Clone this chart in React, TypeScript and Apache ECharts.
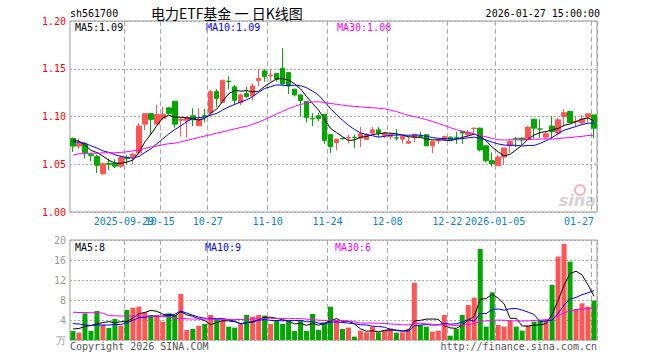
import React, { useEffect, useRef } from "react";
import * as echarts from "echarts";

const dates = [
  "2025-09-16","2025-09-17","2025-09-18","2025-09-19","2025-09-22","2025-09-23","2025-09-24","2025-09-25","2025-09-26","2025-09-29",
  "2025-09-30","2025-10-09","2025-10-10","2025-10-13","2025-10-14","2025-10-15","2025-10-16","2025-10-17","2025-10-20","2025-10-21",
  "2025-10-22","2025-10-23","2025-10-24","2025-10-27","2025-10-28","2025-10-29","2025-10-30","2025-10-31","2025-11-03","2025-11-04",
  "2025-11-05","2025-11-06","2025-11-07","2025-11-10","2025-11-11","2025-11-12","2025-11-13","2025-11-14","2025-11-17","2025-11-18",
  "2025-11-19","2025-11-20","2025-11-21","2025-11-24","2025-11-25","2025-11-26","2025-11-27","2025-11-28","2025-12-01","2025-12-02",
  "2025-12-03","2025-12-04","2025-12-05","2025-12-08","2025-12-09","2025-12-10","2025-12-11","2025-12-12","2025-12-15","2025-12-16",
  "2025-12-17","2025-12-18","2025-12-19","2025-12-22","2025-12-23","2025-12-24","2025-12-25","2025-12-26","2025-12-29","2025-12-30",
  "2025-12-31","2026-01-05","2026-01-06","2026-01-07","2026-01-08","2026-01-09","2026-01-12","2026-01-13","2026-01-14","2026-01-15",
  "2026-01-16","2026-01-19","2026-01-20","2026-01-21","2026-01-22","2026-01-23","2026-01-26","2026-01-27"
];

const xLabelIndex = [9, 15, 23, 33, 43, 53, 63, 71, 87];
const fullLabelIndex = [9, 71];

const opens = [
  1.077,1.069,1.071,1.060,1.058,1.040,1.051,1.051,1.048,1.057,
  1.058,1.062,1.092,1.103,1.092,1.098,1.109,1.116,1.096,1.096,
  1.1007,1.0903,1.101,1.104,1.126,1.1146,1.137,1.131,1.1146,1.124,
  1.1216,1.1376,1.1477,1.1425,1.145,1.1505,1.146,1.1286,1.1226,1.1157,
  1.098,1.1007,1.1024,1.081,1.0728,1.0772,1.0775,1.0782,1.0774,1.076,
  1.0826,1.086,1.080,1.079,1.0778,1.0763,1.072,1.078,1.0795,1.081,
  1.0693,1.0745,1.0763,1.0784,1.0778,1.0843,1.081,1.0875,1.0878,1.0693,
  1.0537,1.0484,1.0575,1.0693,1.0768,1.0774,1.0757,1.0972,1.087,1.0784,
  1.090,1.0826,1.100,1.1052,1.0945,1.0935,1.0993,1.1017
];
const closes = [
  1.069,1.072,1.062,1.059,1.049,1.0505,1.050,1.048,1.057,1.056,
  1.0605,1.090,1.103,1.097,1.102,1.102,1.103,1.092,1.097,1.099,
  1.0965,1.0972,1.100,1.126,1.119,1.138,1.1365,1.117,1.1226,1.121,
  1.132,1.140,1.1418,1.1435,1.139,1.134,1.132,1.1226,1.1167,1.099,
  1.0975,1.098,1.075,1.0686,1.0763,1.0767,1.078,1.0778,1.082,1.081,
  1.086,1.0826,1.0826,1.081,1.0774,1.079,1.074,1.081,1.079,1.0693,
  1.074,1.075,1.079,1.0763,1.0774,1.0826,1.0833,1.0878,1.065,1.0537,
  1.0505,1.0575,1.067,1.0738,1.0767,1.0757,1.0889,1.0878,1.0868,1.082,
  1.0843,1.0965,1.104,1.0937,1.095,1.0972,1.1028,1.0878
];
const lows = [
  1.063,1.066,1.056,1.053,1.041,1.039,1.044,1.046,1.046,1.050,
  1.050,1.060,1.086,1.081,1.092,1.096,1.102,1.088,1.079,1.078,
  1.090,1.090,1.094,1.100,1.110,1.1146,1.1285,1.112,1.112,1.119,
  1.117,1.132,1.1365,1.1365,1.1365,1.133,1.1237,1.121,1.100,1.0937,
  1.090,1.095,1.0714,1.0617,1.0645,1.0757,1.072,1.067,1.068,1.075,
  1.081,1.0784,1.0774,1.076,1.075,1.0714,1.0714,1.073,1.0785,1.0693,
  1.0617,1.0714,1.0745,1.0763,1.0714,1.0714,1.079,1.081,1.0634,1.052,
  1.0477,1.0484,1.0495,1.0617,1.068,1.0704,1.0757,1.0774,1.0774,1.0763,
  1.0763,1.080,1.0895,1.093,1.090,1.092,1.0937,1.0774
];
const highs = [
  1.078,1.077,1.073,1.062,1.060,1.052,1.056,1.055,1.059,1.060,
  1.062,1.093,1.103,1.103,1.112,1.110,1.110,1.116,1.099,1.100,
  1.1087,1.1087,1.108,1.128,1.1285,1.138,1.142,1.133,1.124,1.131,
  1.134,1.150,1.150,1.150,1.1455,1.1714,1.146,1.1286,1.1226,1.1157,
  1.1035,1.104,1.1024,1.081,1.0763,1.0778,1.081,1.081,1.089,1.0826,
  1.089,1.089,1.084,1.0826,1.0868,1.079,1.079,1.082,1.084,1.081,
  1.074,1.077,1.080,1.079,1.084,1.0843,1.086,1.0878,1.0885,1.0693,
  1.0624,1.060,1.067,1.0762,1.0785,1.0774,1.090,1.0972,1.097,1.0833,
  1.100,1.0983,1.1077,1.106,1.100,1.1017,1.1028,1.1017
];

// volume in 万
const volumes = [
  1.8,1.47,5.33,1.8,5.8,3.0,2.4,4.2,2.87,6.0,
  6.47,6.67,5.53,5.0,5.0,3.67,5.33,5.0,9.2,2.0,
  2.2,2.87,3.2,5.0,4.2,4.0,2.67,2.47,3.13,5.0,
  4.67,5.0,4.87,3.2,4.0,3.2,3.8,1.8,4.0,1.8,
  5.2,2.0,3.53,6.67,4.0,2.2,2.47,0.67,1.87,1.53,
  2.67,1.53,2.0,2.33,1.47,1.53,2.2,11.47,3.0,2.67,
  1.67,1.87,5.0,0.87,2.2,5.0,7.0,8.47,18.2,2.67,
  9.53,3.0,2.67,3.8,2.67,1.87,2.87,3.67,4.0,4.0,
  11.0,16.67,19.2,15.67,6.2,7.33,6.67,7.87
];

// averages before the full window is available
const ma5Lead = [1.0756, 1.074, 1.0704, 1.0645];
const ma10Lead = [1.0732, 1.0732, 1.072, 1.0693, 1.067, 1.064, 1.0624, 1.060, 1.0582];
const ma30Lead = [
  1.0595,1.061,1.061,1.0615,1.0615,1.062,1.062,1.062,1.0625,1.063,
  1.064,1.065,1.0665,1.068,1.069,1.0705,1.0715,1.072,1.0735,1.075,
  1.0765,1.078,1.0795,1.081,1.0825,1.084,1.0855,1.087,1.0885
];
const volMa5Lead = [2.2, 2.3, 2.7, 2.9];
const volMa10Lead = [3.3, 3.2, 3.0, 2.9, 3.0, 3.0, 3.0, 3.1, 3.1];
const volMa30Lead = [
  5.55,5.5,5.5,5.45,5.45,5.4,4.85,4.85,4.8,4.8,
  4.8,4.8,4.75,4.75,4.75,4.7,4.7,4.3,4.3,4.25,
  4.2,4.2,4.2,4.15,4.15,4.1,4.1,4.1,4.1
];

const priceTicks = { min: 1.0, max: 1.2, interval: 0.05 };
const volTicks = { min: 0, max: 20, interval: 4 };

const RED = "#ff5555";
const GREEN = "#00a800";
const MONO = '"DejaVu Sans Mono", monospace';

function movingAvg(values: number[], n: number, lead: number[]) {
  return values.map((_, i) => {
    if (i < n - 1) return lead[i];
    let s = 0;
    for (let k = i - n + 1; k <= i; k++) s += values[k];
    return +(s / n).toFixed(4);
  });
}

export default function App() {
  const ref = useRef<HTMLDivElement>(null);
  useEffect(() => {
    if (!ref.current) return;
    const chart = echarts.init(ref.current, undefined, { renderer: "svg" });
    const kData = dates.map((_, i) => [opens[i], closes[i], lows[i], highs[i]]);
    const volData = volumes.map((v, i) => ({
      value: v,
      itemStyle: { color: closes[i] >= opens[i] ? RED : GREEN },
    }));
    const showSet = new Set(xLabelIndex);
    const firstIdx = xLabelIndex[0];
    const intervalFn = (idx: number) => showSet.has(idx);
    const mainLabelFn = (idx: number) => showSet.has(idx) && idx !== firstIdx;
    const splitX = { show: true, interval: intervalFn, lineStyle: { color: "#aaa", type: [5, 3] as any, width: 1 } };
    const fmt = (value: string, index: number) => {
      const t = fullLabelIndex.includes(index) ? value : value.slice(5);
      return index === dates.length - 1 ? t : `{a|${t}}`;
    };
    const labelBase = {
      margin: 4, color: "#0a84c8", fontSize: 10, fontFamily: MONO, hideOverlap: false,
      formatter: fmt,
      rich: { a: { padding: [0, 6, 0, 0], color: "#0a84c8", fontSize: 10, fontFamily: MONO } },
    };
    const lineSeries = (name: string, data: number[], color: string, xi: number) => ({
      name, type: "line", data, xAxisIndex: xi, yAxisIndex: xi, symbol: "none", smooth: false,
      lineStyle: { color, width: 1 }, itemStyle: { color }, silent: true,
    });
    const txt = (text: string, x: number, y: number, fill: string, opts: any = {}) => ({
      type: "text", x, y, silent: true,
      style: {
        text, fill, fontSize: opts.fontSize || 10, fontFamily: opts.fontFamily || MONO,
        textAlign: opts.align || "left", align: opts.align || "left",
        textVerticalAlign: "middle", verticalAlign: "middle",
        fontStyle: opts.fontStyle, fontWeight: opts.fontWeight,
      },
    });
    chart.setOption({
      animation: false,
      backgroundColor: "#fff",
      grid: [
        { left: 70, right: 63, top: 21, height: 191, show: true, borderColor: "#999", borderWidth: 1 },
        { left: 70, right: 63, top: 240, height: 100, show: true, borderColor: "#999", borderWidth: 1 },
      ],
      xAxis: [
        {
          type: "category", data: dates, gridIndex: 0, boundaryGap: true, position: "bottom",
          axisLine: { show: false }, axisTick: { show: false },
          axisLabel: { ...labelBase, interval: mainLabelFn, alignMaxLabel: "right" },
          splitLine: splitX,
        },
        {
          type: "category", data: dates, gridIndex: 1, boundaryGap: true,
          axisLine: { show: false }, axisTick: { show: false }, axisLabel: { show: false },
          splitLine: splitX,
        },
        {
          type: "category", data: dates, gridIndex: 0, boundaryGap: true, position: "bottom", offset: 0,
          axisLine: { show: false }, axisTick: { show: false }, splitLine: { show: false },
          axisLabel: { ...labelBase, interval: (idx: number) => idx === firstIdx },
        },
      ],
      yAxis: [
        {
          type: "value", gridIndex: 0, ...priceTicks, scale: true,
          axisLine: { show: false }, axisTick: { show: false },
          axisLabel: { color: "#ff0000", fontSize: 10, fontFamily: MONO, margin: 4, formatter: (v: number) => v.toFixed(2) },
          splitLine: { show: true, lineStyle: { color: "#aaa", type: [2, 2] as any } },
        },
        {
          type: "value", gridIndex: 1, ...volTicks,
          axisLine: { show: false }, axisTick: { show: false },
          axisLabel: { color: "#999", fontSize: 10, fontFamily: MONO, margin: 4, formatter: (v: number) => (v === 0 ? "万" : String(v)) },
          splitLine: { show: true, lineStyle: { color: "#aaa", type: [2, 2] as any } },
        },
      ],
      series: [
        {
          type: "candlestick", data: kData, xAxisIndex: 0, yAxisIndex: 0, barWidth: 5, silent: true,
          itemStyle: { color: RED, color0: GREEN, borderColor: RED, borderColor0: GREEN, borderWidth: 1 },
        },
        lineSeries("MA5", movingAvg(closes, 5, ma5Lead), "#000000", 0),
        lineSeries("MA10", movingAvg(closes, 10, ma10Lead), "#0000ff", 0),
        lineSeries("MA30", movingAvg(closes, 30, ma30Lead), "#ff00ff", 0),
        { type: "bar", data: volData, xAxisIndex: 1, yAxisIndex: 1, barWidth: 5, silent: true },
        lineSeries("VMA5", movingAvg(volumes, 5, volMa5Lead), "#000000", 1),
        lineSeries("VMA10", movingAvg(volumes, 10, volMa10Lead), "#0000ff", 1),
        lineSeries("VMA30", movingAvg(volumes, 30, volMa30Lead), "#ff00ff", 1),
      ],
      graphic: [
        txt("sh561700", 70, 13, "#000"),
        txt("电力ETF基金 一 日K线图", 151, 13, "#000", { fontSize: 14, fontFamily: '"Noto Sans CJK SC", sans-serif' }),
        txt("2026-01-27 15:00:00", 600, 13, "#000", { align: "right" }),
        txt("MA5:1.09", 75, 27, "#000"),
        txt("MA10:1.09", 206, 27, "#0000ff"),
        txt("MA30:1.08", 337, 27, "#ff00ff"),
        txt("MA5:8", 75, 247, "#000"),
        txt("MA10:9", 205, 247, "#0000ff"),
        txt("MA30:6", 335, 247, "#ff00ff"),
        txt("Copyright 2026 SINA.COM", 70, 346, "#555"),
        txt("http://finance.sina.com.cn", 597, 346, "#555", { align: "right" }),
        { type: "circle", silent: true, shape: { cx: 580, cy: 190, r: 5 }, style: { fill: "none", stroke: "#f2b8b8", lineWidth: 2 } },
        txt("sina", 596, 200, "#d4d4d4", { align: "right", fontSize: 16, fontStyle: "italic", fontWeight: "bold", fontFamily: '"DejaVu Sans", sans-serif' }),
      ],
    });
    return () => chart.dispose();
  }, []);
  return <div ref={ref} style={{ position: "fixed", left: 0, top: 0, width: 660, height: 360 }} />;
}
